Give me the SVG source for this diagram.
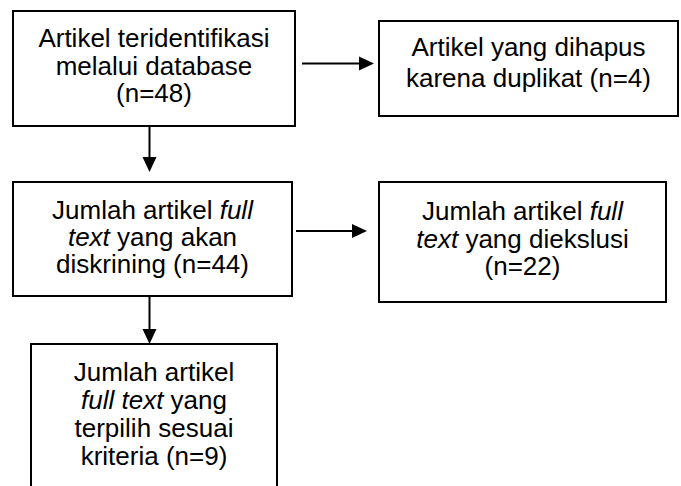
<svg xmlns="http://www.w3.org/2000/svg" width="681" height="486" viewBox="0 0 681 486">
<style>
.box{fill:#fff;stroke:#000;stroke-width:2}
.t{font-family:"Liberation Sans",Arial,sans-serif;font-size:26px;fill:#000;text-anchor:middle}
.i{font-style:italic}
.c{stroke:#000;stroke-width:2;fill:none}
.h{fill:#000}
</style>
<rect width="681" height="486" fill="#fff"/>
<g id="connectors">
<path class="c" d="M149.5,126 V157"/>
<path class="h" d="M142.5,157 L156.5,157 L149.5,172 Z"/>
<path class="c" d="M302,63.5 H359"/>
<path class="h" d="M359,56.5 L359,70.5 L374,63.5 Z"/>
<path class="c" d="M149.5,296 V329"/>
<path class="h" d="M142.5,329 L156.5,329 L149.5,344 Z"/>
<path class="c" d="M296,231 H352"/>
<path class="h" d="M352,224 L352,238 L367,231 Z"/>
</g>
<g id="node1">
<rect class="box" x="13" y="11" width="282" height="115"/>
<text class="t" x="154" y="47">Artikel teridentifikasi</text>
<text class="t" x="154" y="75">melalui database</text>
<text class="t" x="154" y="102">(n=48)</text>
</g>
<g id="node2">
<rect class="box" x="379" y="21" width="299" height="95"/>
<text class="t" x="528.5" y="56">Artikel yang dihapus</text>
<text class="t" x="528.5" y="87">karena duplikat (n=4)</text>
</g>
<g id="node3">
<rect class="box" x="13" y="182" width="279" height="114"/>
<text class="t" x="152.5" y="219">Jumlah artikel <tspan class="i">full</tspan></text>
<text class="t" x="152.5" y="246"><tspan class="i">text</tspan> yang akan</text>
<text class="t" x="152.5" y="273">diskrining (n=44)</text>
</g>
<g id="node4">
<rect class="box" x="379" y="182" width="287" height="120"/>
<text class="t" x="522.5" y="220">Jumlah artikel <tspan class="i">full</tspan></text>
<text class="t" x="522.5" y="248"><tspan class="i">text</tspan> yang diekslusi</text>
<text class="t" x="522.5" y="275">(n=22)</text>
</g>
<g id="node5">
<rect class="box" x="31" y="344" width="246" height="150"/>
<text class="t" x="154" y="381">Jumlah artikel</text>
<text class="t" x="154" y="409"><tspan class="i">full text</tspan> yang</text>
<text class="t" x="154" y="437">terpilih sesuai</text>
<text class="t" x="154" y="465">kriteria (n=9)</text>
</g>
</svg>
